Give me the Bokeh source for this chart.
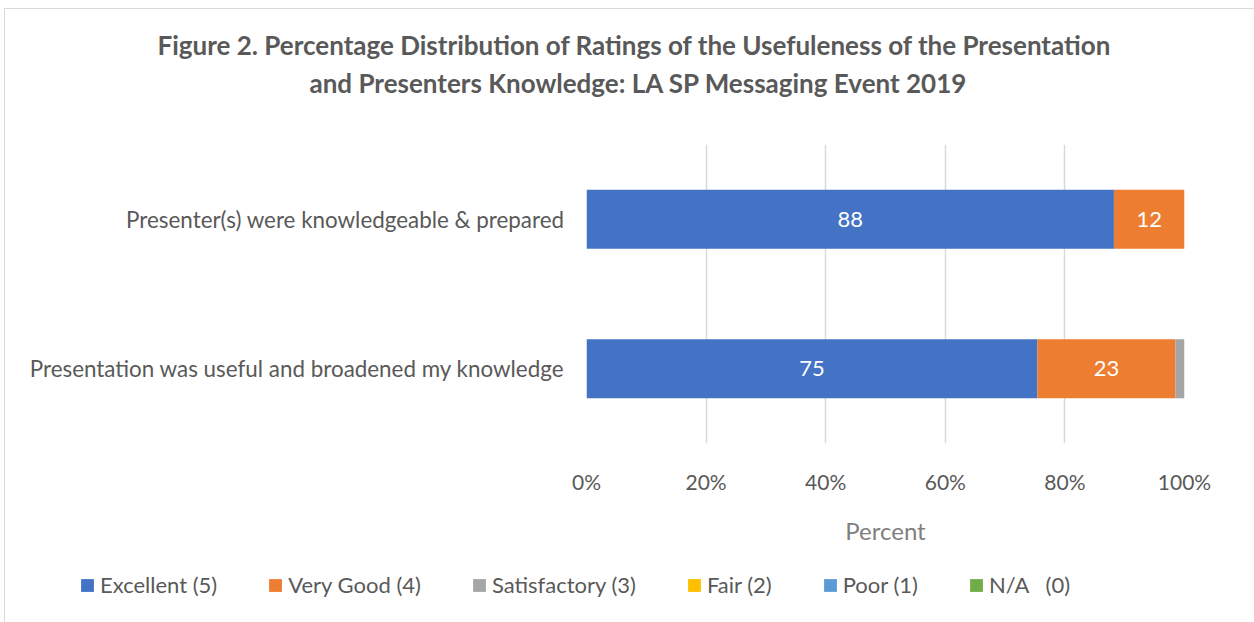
from bokeh.plotting import figure
from bokeh.layouts import column
from bokeh.models import (FactorRange, Range1d, FixedTicker, PrintfTickFormatter,
                          Legend, LegendItem, Title, ColumnDataSource)
from bokeh.core.properties import value
from bokeh.embed import file_html
from bokeh.resources import INLINE

# ---------------- data ----------------
categories = ["Presenter(s) were knowledgeable & prepared",
              "Presentation was useful and broadened my knowledge"]
ratings = ["Excellent (5)", "Very Good (4)", "Satisfactory (3)",
           "Fair (2)", "Poor (1)", "N/A   (0)"]
excellent = [88.2, 75.4]
very_good = [11.8, 23.1]
satisfactory = [0.0, 1.5]
fair = [0.0, 0.0]
poor = [0.0, 0.0]
na = [0.0, 0.0]
x_ticks = [0, 20, 40, 60, 80, 100]
title_lines = ["Figure 2. Percentage Distribution of Ratings of the Usefuleness of the Presentation",
               "and Presenters Knowledge: LA SP Messaging Event 2019"]
colors = ["#4472C4", "#ED7D31", "#A5A5A5", "#FFC000", "#5B9BD5", "#70AD47"]

series = [excellent, very_good, satisfactory, fair, poor, na]
FONT = "Lato"
GREY = "#595959"
W = 1249

y_factors = list(reversed(categories))

p = figure(width=W, height=550, y_range=FactorRange(*y_factors, range_padding=0),
           x_range=Range1d(0, 100), output_backend="svg", toolbar_location=None,
           title_location=None, min_border_left=581, min_border_right=70,
           min_border_top=135, min_border_bottom=116)
p.frame_align = False
p.outline_line_color = None
p.background_fill_color = "white"
p.border_fill_color = "white"

# stacked bars
for i, (name, vals) in enumerate(zip(ratings, series)):
    left = [sum(s[j] for s in series[:i]) for j in range(len(categories))]
    right = [l + v for l, v in zip(left, vals)]
    src = ColumnDataSource(dict(y=categories, left=left, right=right))
    p.hbar(y="y", left="left", right="right", height=0.395, source=src,
           fill_color=colors[i], line_color=None)

# value labels
lx, ly, lt = [], [], []
for i, vals in enumerate(series):
    for j, v in enumerate(vals):
        if v >= 5:
            start = sum(s[j] for s in series[:i])
            lx.append(start + v / 2)
            ly.append(categories[j])
            lt.append(str(int(round(v))))
p.text(x=lx, y=ly, text=lt, text_color="white", text_font=value(FONT),
       text_font_size="22px", text_align="center", text_baseline="middle")

# axes
p.xaxis.ticker = FixedTicker(ticks=x_ticks)
p.xaxis.formatter = PrintfTickFormatter(format="%d%%")
p.xaxis.axis_line_color = None
p.xaxis.major_tick_line_color = None
p.xaxis.minor_tick_line_color = None
p.xaxis.major_label_text_font = FONT
p.xaxis.major_label_text_font_size = "21px"
p.xaxis.major_label_text_color = GREY
p.xaxis.major_label_standoff = 19
p.xaxis.axis_label = "Percent"
p.xaxis.axis_label_text_font = FONT
p.xaxis.axis_label_text_font_size = "24px"
p.xaxis.axis_label_text_font_style = "normal"
p.xaxis.axis_label_text_color = "#7f7f7f"
p.xaxis.axis_label_standoff = 19

p.yaxis.axis_line_color = None
p.yaxis.major_tick_line_color = None
p.yaxis.minor_tick_line_color = None
p.yaxis.major_label_text_font = FONT
p.yaxis.major_label_text_font_size = "22.4px"
p.yaxis.major_label_text_color = GREY
p.yaxis.major_label_standoff = 16

p.xgrid.grid_line_color = "#d9d9d9"
p.xgrid.grid_line_width = 1.5
p.ygrid.grid_line_color = None

# title (two lines) + spacer closest to the frame
spacer = Title(text=" ", text_font_size="1px", standoff=43)
t2 = Title(text=title_lines[1], align="left", offset=-277, text_font=FONT,
           text_font_size="26px", text_font_style="bold", text_color=GREY, standoff=0)
t1 = Title(text=title_lines[0], align="left", offset=-429, text_font=FONT,
           text_font_size="26px", text_font_style="bold", text_color=GREY, standoff=8)
p.add_layout(spacer, "above")
p.add_layout(t2, "above")
p.add_layout(t1, "above")

# legend in its own strip below the chart
leg = figure(width=W, height=63, x_range=Range1d(0, 1), y_range=Range1d(0, 1),
             x_axis_type=None, y_axis_type=None, output_backend="svg",
             toolbar_location=None, title_location=None,
             min_border_left=0, min_border_right=0, min_border_top=0, min_border_bottom=0)
leg.frame_align = False
leg.outline_line_color = None
leg.grid.visible = False
items = []
for name, c in zip(ratings, colors):
    r = leg.hbar(y=[0], left=[0], right=[0], height=0, fill_color=c, line_color=None)
    items.append(LegendItem(label=name, renderers=[r]))
legend = Legend(items=items, orientation="horizontal", location=(74, 24),
                glyph_width=16, glyph_height=16, label_standoff=5, spacing=50,
                label_text_font=FONT, label_text_font_size="22px", label_text_color=GREY,
                padding=0, margin=0, border_line_color=None, background_fill_alpha=0)
leg.add_layout(legend, "center")

layout = column(p, leg, spacing=0)
layout.styles = {"margin-top": "8px", "margin-left": "4px",
                 "border-top": "1px solid #d9d9d9", "border-left": "1px solid #d9d9d9"}

open("out.html", "w").write(file_html(layout, INLINE))
